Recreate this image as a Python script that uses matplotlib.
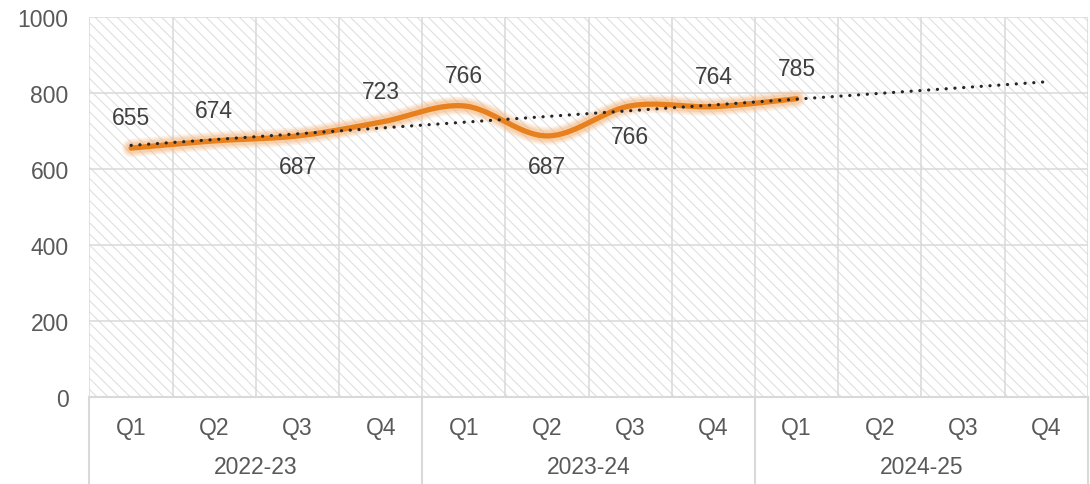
import numpy as np
import matplotlib.pyplot as plt
from matplotlib.patches import Rectangle
from matplotlib.transforms import blended_transform_factory

# data
years = ["2022-23", "2023-24", "2024-25"]
quarters = ["Q1", "Q2", "Q3", "Q4"]
values = [655, 674, 687, 723, 766, 687, 766, 764, 785]
label_side = [1, 1, -1, 1, 1, -1, -1, 1, 1]   # 1 = above, -1 = below
yticks = [0, 200, 400, 600, 800, 1000]

plt.rcParams['font.family'] = ['Liberation Sans', 'DejaVu Sans']
plt.rcParams['hatch.color'] = '#dedede'
plt.rcParams['hatch.linewidth'] = 0.75

grid_col = '#d9d9d9'
text_col = '#595959'


def catmull_rom(x, y, n=40):
    # smooth curve through the points, roughly like Excel's "smoothed line"
    px = np.concatenate([[x[0]], x, [x[-1]]])
    py = np.concatenate([[y[0]], y, [y[-1]]])
    xs, ys = [], []
    t = np.linspace(0, 1, n)
    for i in range(1, len(px) - 2):
        p0, p1, p2, p3 = (np.array([px[k], py[k]]) for k in (i - 1, i, i + 1, i + 2))
        m1 = (p2 - p0) / 2
        m2 = (p3 - p1) / 2
        h00 = 2 * t**3 - 3 * t**2 + 1
        h10 = t**3 - 2 * t**2 + t
        h01 = -2 * t**3 + 3 * t**2
        h11 = t**3 - t**2
        pts = np.outer(h00, p1) + np.outer(h10, m1) + np.outer(h01, p2) + np.outer(h11, m2)
        xs.extend(pts[:, 0])
        ys.extend(pts[:, 1])
    return np.array(xs), np.array(ys)


n_cat = len(years) * len(quarters)
x = np.arange(len(values))

fig = plt.figure(figsize=(10.9, 4.85), dpi=100)
ax = fig.add_axes([0.0821, 0.1794, 0.9159, 0.7835])
ax.set_xlim(-0.5, n_cat - 0.5)
ax.set_ylim(0, 1000)

# hatched plot area
ax.add_patch(Rectangle((0, 0), 1, 1, transform=ax.transAxes, facecolor='white',
                       edgecolor='#dedede', hatch='\\\\\\', linewidth=0, zorder=0))

# gridlines
for yv in yticks[1:]:
    ax.axhline(yv, color=grid_col, lw=1.1, zorder=1)
for xb in np.arange(-0.5, n_cat, 1.0):
    ax.axvline(xb, color=grid_col, lw=1.1, zorder=1)

# smoothed line with a soft glow
sx, sy = catmull_rom(x, np.array(values, dtype=float))
for w, a in [(13, 0.18), (10.5, 0.25), (8, 0.35)]:
    ax.plot(sx, sy, color='#f4b47a', lw=w, alpha=a, solid_capstyle='round', zorder=3)
ax.plot(sx, sy, color='#e8801e', lw=3.8, solid_capstyle='round', zorder=4)

# linear trendline, forecast to the end of the axis
coef = np.polyfit(x, values, 1)
tx = np.array([0, n_cat - 1])
ax.plot(tx, np.polyval(coef, tx), color='#262626', lw=2.3,
        linestyle=(0, (0.05, 2.7)), dash_capstyle='round', zorder=5)

# data labels
for i, (v, s) in enumerate(zip(values, label_side)):
    ax.annotate(str(v), (i, v), xytext=(0, s * 22), textcoords='offset points',
                ha='center', va='center', fontsize=16.5, color='#404040', zorder=6)

# y axis
ax.set_yticks(yticks)
ax.set_yticklabels([str(t) for t in yticks], fontsize=16.5, color=text_col)
ax.tick_params(axis='y', length=0, pad=15)
ax.set_xticks([])
for sp in ax.spines.values():
    sp.set_visible(False)

# multi-level category axis
tr = blended_transform_factory(ax.transData, ax.transAxes)
bottom = -0.235
ax.plot([-0.5, n_cat - 0.5], [0, 0], color=grid_col, lw=1.5, transform=tr, clip_on=False, zorder=2)
for xb in np.arange(-0.5, n_cat, len(quarters)):
    ax.plot([xb, xb], [0, bottom], color=grid_col, lw=1.5, transform=tr, clip_on=False)
for i in range(n_cat):
    ax.text(i, -0.079, quarters[i % len(quarters)], transform=tr, ha='center', va='center',
            fontsize=16.5, color=text_col)
for j, yr in enumerate(years):
    xc = j * len(quarters) + (len(quarters) - 1) / 2
    ax.text(xc, -0.182, yr, transform=tr, ha='center', va='center', fontsize=16.5, color=text_col)

fig.savefig('out.png', dpi=100)
